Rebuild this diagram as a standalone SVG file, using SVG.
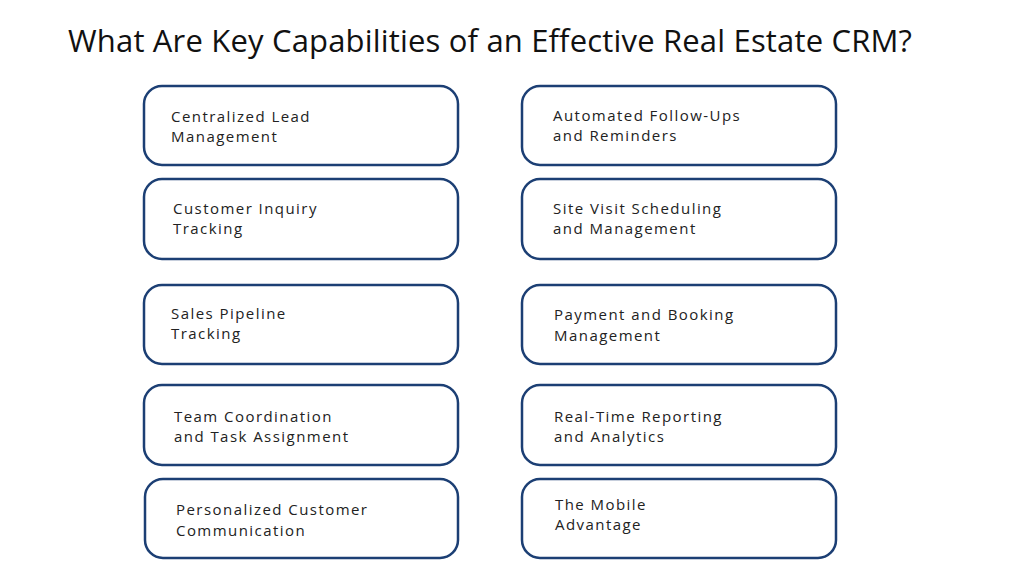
<svg xmlns="http://www.w3.org/2000/svg" width="1024" height="576" viewBox="0 0 1024 576">
<style>
.b{fill:#fff;stroke:#1c3f74;stroke-width:2.5}
.t{font-family:"Open Sans","Liberation Sans",sans-serif;font-size:15px;letter-spacing:1.45px;fill:#222}
.h{font-family:"Open Sans","Liberation Sans",sans-serif;font-size:31px;fill:#111}
</style>
<rect width="1024" height="576" fill="#fff"/>
<text class="h" x="68" y="52" textLength="844" lengthAdjust="spacing">What Are Key Capabilities of an Effective Real Estate CRM?</text>
<g id="n1"><rect class="b" x="144" y="86" width="314" height="79" rx="18"/><text class="t" x="171" y="122">Centralized Lead</text><text class="t" x="171" y="142">Management</text></g>
<g id="n2"><rect class="b" x="144" y="179" width="314" height="80" rx="18"/><text class="t" x="173" y="214">Customer Inquiry</text><text class="t" x="173" y="234">Tracking</text></g>
<g id="n3"><rect class="b" x="144" y="285" width="314" height="79" rx="18"/><text class="t" x="171" y="319">Sales Pipeline</text><text class="t" x="171" y="339">Tracking</text></g>
<g id="n4"><rect class="b" x="144" y="385" width="314" height="80" rx="18"/><text class="t" x="174" y="422">Team Coordination</text><text class="t" x="174" y="442">and Task Assignment</text></g>
<g id="n5"><rect class="b" x="145" y="479" width="313" height="79" rx="18"/><text class="t" x="176" y="515">Personalized Customer</text><text class="t" x="176" y="536">Communication</text></g>
<g id="n6"><rect class="b" x="522" y="86" width="314" height="79" rx="18"/><text class="t" x="553" y="121">Automated Follow-Ups</text><text class="t" x="553" y="141">and Reminders</text></g>
<g id="n7"><rect class="b" x="522" y="179" width="314" height="80" rx="18"/><text class="t" x="553" y="214">Site Visit Scheduling</text><text class="t" x="553" y="234">and Management</text></g>
<g id="n8"><rect class="b" x="522" y="285" width="314" height="79" rx="18"/><text class="t" x="554" y="320">Payment and Booking</text><text class="t" x="554" y="341">Management</text></g>
<g id="n9"><rect class="b" x="522" y="385" width="314" height="80" rx="18"/><text class="t" x="554" y="422">Real-Time Reporting</text><text class="t" x="554" y="442">and Analytics</text></g>
<g id="n10"><rect class="b" x="522" y="479" width="314" height="79" rx="18"/><text class="t" x="555" y="510">The Mobile</text><text class="t" x="555" y="530">Advantage</text></g>
<g id="connectors"/>
</svg>
